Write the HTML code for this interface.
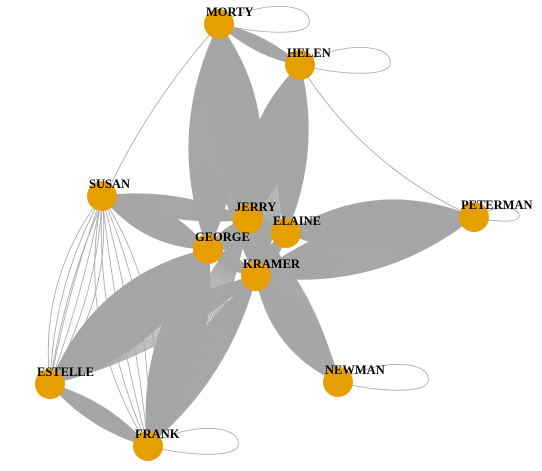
<!DOCTYPE html>
<html><head><meta charset="utf-8"><style>
html,body{margin:0;padding:0;background:#fff}
svg{display:block}
text{font-family:"Liberation Serif",serif;font-weight:bold;font-size:12.5px;fill:#000}
</style></head><body>
<svg id="chart" width="542" height="471" viewBox="0 0 542 471">
<g id="edges"></g>
<g id="nodes"></g>
</svg>
<script>
const nodeNames=["MORTY","HELEN","SUSAN","JERRY","ELAINE","PETERMAN","GEORGE","KRAMER","ESTELLE","NEWMAN","FRANK"];
const nodeX=[219,300,102,248,286,474,208,256,50,338,148];
const nodeY=[24,65,196,219,233,217,249,276,384,382,446];
const edgeFrom=["MORTY","MORTY","MORTY","MORTY","HELEN","HELEN","HELEN","HELEN","SUSAN","SUSAN","SUSAN","SUSAN","ELAINE","KRAMER","GEORGE","GEORGE","KRAMER","KRAMER","ESTELLE","KRAMER","JERRY","MORTY","JERRY","JERRY","JERRY","GEORGE","ELAINE","ELAINE","JERRY"];
const edgeTo=["JERRY","GEORGE","HELEN","KRAMER","JERRY","ELAINE","PETERMAN","KRAMER","GEORGE","JERRY","ESTELLE","FRANK","PETERMAN","PETERMAN","ESTELLE","FRANK","FRANK","ESTELLE","FRANK","NEWMAN","NEWMAN","ESTELLE","GEORGE","ELAINE","KRAMER","KRAMER","KRAMER","GEORGE","FRANK"];
const edgeWeight=[40,30,14,20,40,20,1,10,35,14,6,6,40,30,40,30,18,10,16,40,14,1,30,30,30,30,30,16,10];
const loopNodes=["MORTY","HELEN","NEWMAN","FRANK","PETERMAN","KRAMER"];
const loopSize=[1,1,1,1,0.5,0.5];

const NS="http://www.w3.org/2000/svg";
const eg=document.getElementById('edges'), ng=document.getElementById('nodes');
const idx=n=>nodeNames.indexOf(n);
for(let e=0;e<edgeFrom.length;e++){
  const a=idx(edgeFrom[e]),b=idx(edgeTo[e]);
  const x1=nodeX[a],y1=nodeY[a],x2=nodeX[b],y2=nodeY[b];
  const dx=x2-x1,dy=y2-y1,d=Math.hypot(dx,dy),px=-dy/d,py=dx/d;
  const w=edgeWeight[e];
  const g=document.createElementNS(NS,'g');
  
  
  const kmax=w===1?0.15:(w<10?0.2:Math.min(0.26,0.08+w*0.0045));
  const n=w<10?w:w*2;
  for(let i=0;i<n;i++){
    const k=w===1?kmax:-kmax+2*kmax*i/(n-1);
    const cx=(x1+x2)/2+px*d*k,cy=(y1+y2)/2+py*d*k;
    const p=document.createElementNS(NS,'path');
    p.setAttribute('d',`M${x1},${y1} Q${cx},${cy} ${x2},${y2}`);
    p.setAttribute('fill','none');p.setAttribute('stroke','#a6a6a6');p.setAttribute('stroke-width',w<10?'0.8':'1.1');
    g.appendChild(p);
  }
  eg.appendChild(g);
}
for(let l=0;l<loopNodes.length;l++){
  const i=idx(loopNodes[l]),x=nodeX[i],y=nodeY[i],s=loopSize[l];
  const p=document.createElementNS(NS,'path');
  p.setAttribute('d',`M${x},${y} C${x+40*s},${y-25*s} ${x+95*s},${y-22*s} ${x+90*s},${y} C${x+85*s},${y+12*s} ${x+40*s},${y+10*s} ${x},${y}`);
  p.setAttribute('fill','none');p.setAttribute('stroke','#a6a6a6');p.setAttribute('stroke-width','0.8');
  
  
  eg.appendChild(p);
}
for(let i=0;i<nodeNames.length;i++){
  const g=document.createElementNS(NS,'g');
  
  
  const c=document.createElementNS(NS,'circle');
  c.setAttribute('cx',nodeX[i]);c.setAttribute('cy',nodeY[i]);c.setAttribute('r',15);
  c.setAttribute('fill','#E69F00');
  
  
  const t=document.createElementNS(NS,'text');
  t.setAttribute('x',nodeX[i]-13);t.setAttribute('y',nodeY[i]-8);
  t.textContent=nodeNames[i];
  
  
  g.appendChild(c);g.appendChild(t);ng.appendChild(g);
}
</script>
</body></html>
